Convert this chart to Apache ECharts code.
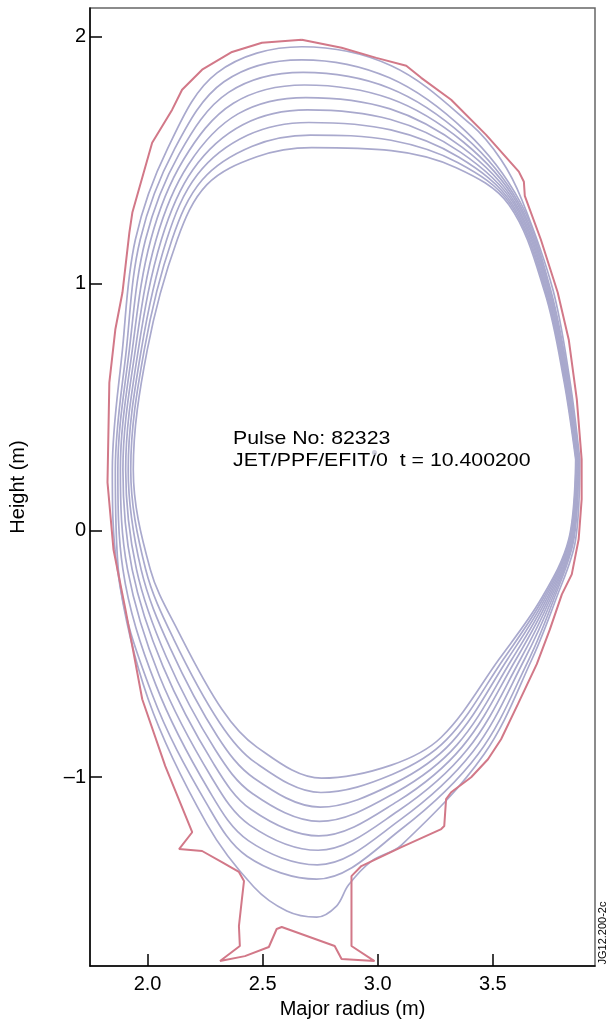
<!DOCTYPE html>
<html>
<head>
<meta charset="utf-8">
<script src="https://cdn.jsdelivr.net/npm/echarts@6/dist/echarts.min.js"></script>
<style>
  html, body { margin: 0; padding: 0; background: #fff; }
  #container { width: 608px; height: 1024px; }
</style>
</head>
<body>
<div id="container"></div>
<script>
// tick labels
const xTicks = [2.0, 2.5, 3.0, 3.5];
const yTicks = [-1, 0, 1, 2];

// first wall / divertor outline, [R, Z] in metres
const wall = [
  [2.670, 1.988], [2.843, 1.956], [2.994, 1.915], [3.124, 1.883], [3.189, 1.834],
  [3.319, 1.745], [3.471, 1.603], [3.613, 1.454], [3.635, 1.413], [3.639, 1.356],
  [3.709, 1.178], [3.782, 0.964], [3.830, 0.773], [3.865, 0.531], [3.886, 0.288],
  [3.886, 0.126], [3.873, -0.036], [3.843, -0.178], [3.800, -0.259], [3.748, -0.401],
  [3.691, -0.542], [3.609, -0.704], [3.536, -0.846], [3.479, -0.927], [3.406, -1.000],
  [3.319, -1.061], [3.297, -1.089], [3.289, -1.198], [3.276, -1.210], [3.103, -1.283],
  [2.929, -1.360], [2.886, -1.401], [2.886, -1.684], [2.986, -1.745], [2.843, -1.737],
  [2.813, -1.684], [2.583, -1.607], [2.561, -1.615], [2.527, -1.688], [2.423, -1.725],
  [2.315, -1.745], [2.401, -1.684], [2.397, -1.603], [2.410, -1.494], [2.419, -1.421],
  [2.397, -1.384], [2.323, -1.344], [2.237, -1.299], [2.137, -1.291], [2.194, -1.223],
  [2.077, -0.955], [1.977, -0.684], [1.904, -0.320], [1.852, -0.077], [1.826, 0.195],
  [1.834, 0.599], [1.860, 0.814], [1.891, 0.964], [1.904, 1.069], [1.921, 1.207],
  [1.934, 1.288], [2.020, 1.571], [2.107, 1.705], [2.150, 1.786], [2.237, 1.867],
  [2.367, 1.939], [2.497, 1.976], [2.670, 1.988]
];

// flux surfaces, outermost first, [R, Z] in metres (starting at outboard midplane)
const surface1 = [
  [3.878, 0.288], [3.860, -0.036], [3.774, -0.279], [3.670, -0.522], [3.462, -0.907],
  [3.103, -1.275], [2.973, -1.340], [2.873, -1.437], [2.821, -1.522], [2.735, -1.567],
  [2.605, -1.542], [2.462, -1.445], [2.258, -1.190], [2.003, -0.684], [1.869, -0.158],
  [1.847, 0.247], [1.891, 0.733], [1.947, 1.178], [2.085, 1.543], [2.302, 1.854],
  [2.670, 1.960], [3.059, 1.883], [3.406, 1.644], [3.536, 1.502], [3.626, 1.340],
  [3.761, 0.976], [3.834, 0.612]
];
const surface2 = [
  [3.873, 0.288], [3.852, -0.036], [3.765, -0.279], [3.657, -0.522], [3.436, -0.907],
  [3.103, -1.210], [2.735, -1.413], [2.432, -1.320], [2.258, -1.109], [2.020, -0.664],
  [1.873, -0.158], [1.860, 0.247], [1.908, 0.733], [1.968, 1.178], [2.116, 1.543],
  [2.332, 1.818], [2.670, 1.907], [3.051, 1.834], [3.384, 1.616], [3.618, 1.332],
  [3.752, 0.972], [3.830, 0.612]
];
const surface3 = [
  [3.871, 0.288], [3.849, -0.036], [3.757, -0.279], [3.638, -0.522], [3.413, -0.897],
  [3.097, -1.173], [2.738, -1.355], [2.438, -1.257], [2.267, -1.054], [2.036, -0.626],
  [1.893, -0.158], [1.871, 0.247], [1.921, 0.733], [1.991, 1.178], [2.136, 1.523],
  [2.352, 1.775], [2.676, 1.856], [3.052, 1.792], [3.378, 1.595], [3.611, 1.330],
  [3.748, 0.971], [3.827, 0.612]
];
const surface4 = [
  [3.869, 0.288], [3.846, -0.036], [3.749, -0.279], [3.620, -0.522], [3.390, -0.887],
  [3.090, -1.136], [2.741, -1.296], [2.444, -1.194], [2.277, -0.999], [2.051, -0.589],
  [1.913, -0.158], [1.882, 0.247], [1.934, 0.733], [2.014, 1.178], [2.156, 1.502],
  [2.373, 1.731], [2.682, 1.805], [3.053, 1.750], [3.372, 1.574], [3.604, 1.329],
  [3.745, 0.970], [3.824, 0.612]
];
const surface5 = [
  [3.867, 0.288], [3.843, -0.036], [3.741, -0.279], [3.601, -0.522], [3.367, -0.877],
  [3.084, -1.099], [2.744, -1.238], [2.450, -1.131], [2.286, -0.944], [2.067, -0.551],
  [1.933, -0.158], [1.893, 0.247], [1.947, 0.733], [2.037, 1.178], [2.177, 1.482],
  [2.393, 1.688], [2.688, 1.754], [3.054, 1.708], [3.366, 1.553], [3.597, 1.327],
  [3.741, 0.969], [3.821, 0.612]
];
const surface6 = [
  [3.866, 0.288], [3.839, -0.036], [3.733, -0.279], [3.583, -0.522], [3.345, -0.868],
  [3.078, -1.062], [2.747, -1.179], [2.457, -1.067], [2.295, -0.890], [2.082, -0.514],
  [1.952, -0.158], [1.905, 0.247], [1.960, 0.733], [2.060, 1.178], [2.197, 1.462],
  [2.414, 1.644], [2.695, 1.704], [3.056, 1.665], [3.359, 1.533], [3.591, 1.325],
  [3.737, 0.967], [3.817, 0.612]
];
const surface7 = [
  [3.864, 0.288], [3.836, -0.036], [3.725, -0.279], [3.564, -0.522], [3.322, -0.858],
  [3.072, -1.025], [2.750, -1.121], [2.463, -1.004], [2.304, -0.835], [2.098, -0.476],
  [1.972, -0.158], [1.916, 0.247], [1.973, 0.733], [2.083, 1.178], [2.217, 1.442],
  [2.434, 1.601], [2.701, 1.653], [3.057, 1.623], [3.353, 1.512], [3.584, 1.323],
  [3.733, 0.966], [3.814, 0.612]
];
const surface8 = [
  [3.862, 0.288], [3.833, -0.036], [3.717, -0.279], [3.546, -0.522], [3.299, -0.848],
  [3.065, -0.988], [2.753, -1.062], [2.469, -0.941], [2.314, -0.780], [2.113, -0.439],
  [1.992, -0.158], [1.927, 0.247], [1.986, 0.733], [2.106, 1.178], [2.238, 1.421],
  [2.455, 1.557], [2.707, 1.602], [3.058, 1.581], [3.347, 1.491], [3.577, 1.322],
  [3.730, 0.965], [3.811, 0.612]
];
const surface9 = [
  [3.860, 0.288], [3.830, -0.036], [3.709, -0.279], [3.527, -0.522], [3.276, -0.838],
  [3.059, -0.951], [2.756, -1.004], [2.475, -0.878], [2.323, -0.725], [2.129, -0.401],
  [2.012, -0.158], [1.938, 0.247], [1.999, 0.733], [2.129, 1.178], [2.258, 1.401],
  [2.475, 1.514], [2.713, 1.551], [3.059, 1.539], [3.341, 1.470], [3.570, 1.320],
  [3.726, 0.964], [3.808, 0.612]
];
const magAxis = [[2.986, 0.316]];

const surfaces = [surface1, surface2, surface3, surface4, surface5,
                  surface6, surface7, surface8, surface9];

const font = 'Liberation Sans, Arial, Helvetica, sans-serif';

let chart = echarts.init(document.getElementById('container'));

let series = surfaces.map(function (s, i) {
    return {
        name: 'psi' + (i + 1),
        type: 'line',
        data: s.concat([s[0]]),
        smooth: 0.35,
        symbol: 'none',
        silent: true,
        lineStyle: { color: '#a9a9cd', width: 1.7 },
        z: 2
    };
});
series.push({
    name: 'wall',
    type: 'line',
    data: wall,
    symbol: 'none',
    silent: true,
    lineStyle: { color: '#d27888', width: 2 },
    z: 3
});
series.push({
    name: 'axis',
    type: 'scatter',
    data: magAxis,
    symbolSize: 5,
    itemStyle: { color: '#c4c4d4' },
    z: 4
});

let option = {
    animation: false,
    backgroundColor: '#fff',
    grid: {
        left: 87,
        right: 13,
        top: 8,
        bottom: 57,
        show: true,
        borderColor: '#666',
        borderWidth: 1.5
    },
    xAxis: {
        type: 'value',
        min: 1.75,
        max: 3.944,
        name: 'Major radius (m)',
        nameLocation: 'middle',
        nameGap: 33,
        nameTextStyle: { fontFamily: font, fontSize: 20, color: '#000', padding: [0, 0, 0, 20] },
        axisLine: { onZero: false, lineStyle: { color: '#000', width: 1.5 } },
        axisTick: { inside: true, length: 12, customValues: xTicks, lineStyle: { color: '#000', width: 1.5 } },
        axisLabel: {
            customValues: xTicks,
            formatter: v => v.toFixed(1),
            fontFamily: font, fontSize: 20, color: '#000', margin: 8
        },
        splitLine: { show: false }
    },
    yAxis: {
        type: 'value',
        min: -1.765,
        max: 2.117,
        name: 'Height (m)',
        nameLocation: 'middle',
        nameGap: 62,
        nameTextStyle: { fontFamily: font, fontSize: 20, color: '#000' },
        axisLine: { onZero: false, lineStyle: { color: '#000', width: 1.5 } },
        axisTick: { inside: true, length: 12, customValues: yTicks, lineStyle: { color: '#000', width: 1.5 } },
        axisLabel: {
            customValues: yTicks,
            formatter: v => v < 0 ? '\u2013' + Math.abs(v) : String(v),
            fontFamily: font, fontSize: 20, color: '#000', margin: 4
        },
        splitLine: { show: false }
    },
    graphic: [
        {
            type: 'text',
            left: 233,
            top: 428,
            scaleX: 1.12,
            style: {
                text: 'Pulse No: 82323\nJET/PPF/EFIT/0  t = 10.400200',
                font: '19px ' + font,
                lineHeight: 22,
                fill: '#000'
            }
        },
        {
            type: 'text',
            x: 603,
            y: 933,
            rotation: Math.PI / 2,
            style: {
                text: 'JG12.200-2c',
                font: '11px ' + font,
                fill: '#000',
                align: 'center',
                verticalAlign: 'middle'
            }
        }
    ],
    series: series
};
chart.setOption(option);
</script>
</body>
</html>
